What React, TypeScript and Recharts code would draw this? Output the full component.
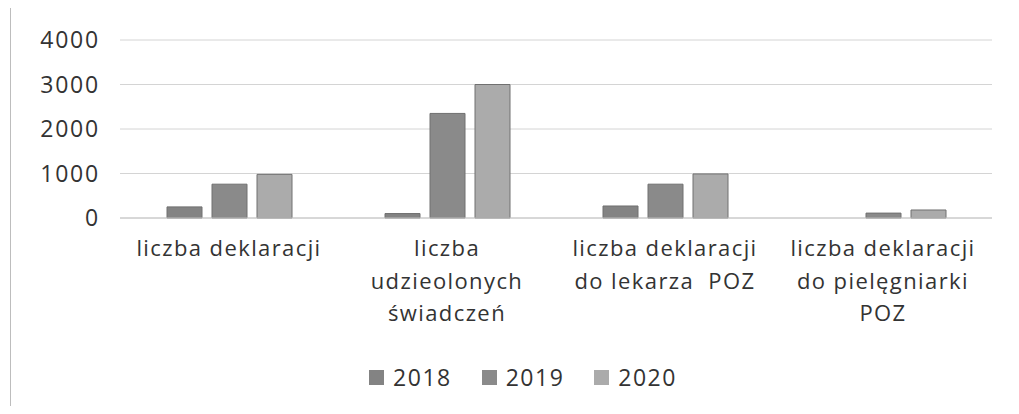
import { BarChart, Bar, XAxis, YAxis, CartesianGrid, Legend } from 'recharts';

const categories = [
  'liczba deklaracji',
  'liczba\nudzieolonych\nświadczeń',
  'liczba deklaracji\ndo lekarza  POZ',
  'liczba deklaracji\ndo pielęgniarki\nPOZ',
];
const years = ['2018', '2019', '2020'];
const values2018 = [250, 100, 270, 0];
const values2019 = [760, 2350, 760, 110];
const values2020 = [980, 3000, 990, 180];
const yTicks = [0, 1000, 2000, 3000, 4000];

const COLORS = ['#838383', '#8a8a8a', '#ababab'];
const FONT = '"Open Sans", sans-serif';

const data = categories.map((name, i) => ({
  name,
  '2018': values2018[i],
  '2019': values2019[i],
  '2020': values2020[i],
}));

function CategoryTick({ x, y, payload }: any) {
  const lines = String(payload.value).split('\n');
  return (
    <text x={x} y={y} textAnchor="middle" fill="#333" fontSize={22} fontFamily={FONT} letterSpacing={1.4}>
      {lines.map((line, i) => (
        <tspan key={i} x={x} dy={i === 0 ? 30 : 32.5} style={{ whiteSpace: 'pre' }}>
          {line}
        </tspan>
      ))}
    </text>
  );
}

function YearLegend() {
  return (
    <div style={{ display: 'flex', justifyContent: 'center', gap: 30, fontFamily: FONT, fontSize: 23, letterSpacing: 1.5, color: '#333', paddingLeft: 54 }}>
      {years.map((yr, i) => (
        <div key={yr} style={{ display: 'flex', alignItems: 'center', gap: 9 }}>
          <span style={{ width: 15, height: 15, background: COLORS[i], display: 'inline-block' }} />
          <span>{yr}</span>
        </div>
      ))}
    </div>
  );
}

export default function App() {
  return (
    <div style={{ margin: -8, width: 1019, height: 414, position: 'relative', background: '#fff', overflow: 'hidden' }}>
      <div style={{ position: 'absolute', left: 0, top: 0, width: 1019, height: 3, background: '#1e1e1e' }} />
      <div style={{ position: 'absolute', left: 10, top: 6, width: 1009, height: 408, borderLeft: '1px solid #bdbdbd', borderTop: '1px solid #d6d6d6' }} />
      <div style={{ position: 'absolute', left: 0, top: 0 }}>
        <BarChart
          width={1019}
          height={414}
          data={data}
          margin={{ top: 40, right: 27, bottom: 17, left: 0 }}
          barSize={35}
          barGap={10}
        >
          <CartesianGrid vertical={false} stroke="#d4d4d4" />
          <XAxis
            dataKey="name"
            tick={<CategoryTick />}
            tickLine={false}
            axisLine={{ stroke: '#c6c6c6' }}
            interval={0}
            height={143}
          />
          <YAxis
            domain={[0, 4000]}
            ticks={yTicks}
            width={120}
            tickLine={false}
            axisLine={false}
            tickMargin={14}
            tick={{ fill: '#333', fontSize: 23, fontFamily: FONT, letterSpacing: 1.8 }}
          />
          <Legend verticalAlign="bottom" height={36} content={<YearLegend />} />
          {years.map((yr, i) => (
            <Bar key={yr} dataKey={yr} fill={COLORS[i]} stroke="#707070" strokeWidth={1} isAnimationActive={false} />
          ))}
        </BarChart>
      </div>
    </div>
  );
}
